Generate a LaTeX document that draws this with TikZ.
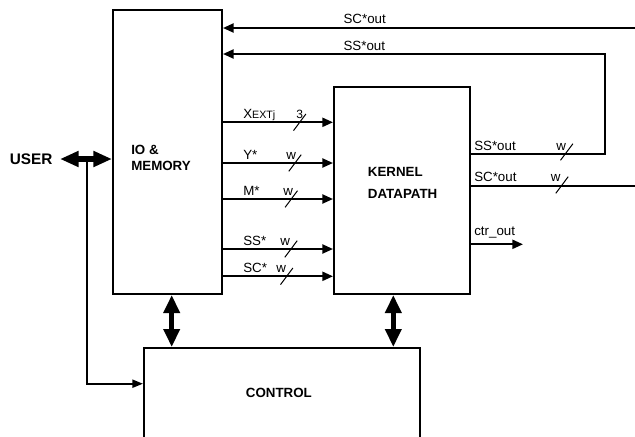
\documentclass[tikz,border=0pt]{standalone}
\usepackage{fontspec}
\setmainfont{Liberation Sans}
\usetikzlibrary{arrows.meta}
\begin{document}
\begin{tikzpicture}[x=0.75pt,y=-0.75pt,
  box/.style={draw, line width=1.5pt, inner sep=0pt},
  sig/.style={line width=1.5pt},
  sigarr/.style={sig, -{Triangle[length=8pt,width=6.8pt]}},
  bus/.style={line width=3.8pt, {Triangle[length=13.5pt,width=11.8pt]}-{Triangle[length=13.5pt,width=11.8pt]}},
  busH/.style={line width=3.8pt, {Triangle[length=14pt,width=11.3pt]}-{Triangle[length=14pt,width=11.3pt]}},
  lbl/.style={font=\fontsize{10}{12}\selectfont, inner sep=0pt, anchor=base west},
  blbl/.style={font=\fontsize{10}{12}\selectfont\bfseries, inner sep=0pt},
  slash/.style={line width=0.75pt}]
\useasboundingbox (0,0) rectangle (635,436);
\clip (0,0) rectangle (635,436);

% boxes
\node[box, minimum width=81.75pt, minimum height=213pt] (io) at (167.5,152) {};
\node[box, minimum width=102pt, minimum height=155.25pt] (kernel) at (402,190.5) {};
\node[box, minimum width=207pt, minimum height=76.5pt] (control) at (282,399) {};

% box texts
\node[blbl, anchor=base west] (io1) at (131,154.3) {IO \&};
\node[blbl, anchor=base west] (io2) at (131,170.7) {MEMORY};
\node[blbl, anchor=base west] (k1) at (367.7,176.7) {KERNEL};
\node[blbl, anchor=base west] (k2) at (367.7,198.3) {DATAPATH};
\node[blbl, anchor=base west] (ctl) at (245.7,397.3) {CONTROL};
\node[blbl, font=\fontsize{11.5}{13}\selectfont\bfseries, anchor=base east] (user) at (52.7,164) {USER};

% inputs to kernel
\foreach \nm/\yy/\txt/\wtxt/\wx/\sx in {
  xe/122.3/{X{\fontsize{8}{8}\selectfont EXTj}}/{\fontsize{9}{9}\selectfont 3}/296/299.7,
  ys/163/{Y*}/w/286/295,
  ms/199/{M*}/w/283/291.3,
  ss/249/{SS*}/w/280/291,
  sc/276.3/{SC*}/w/276/286.7}{
  \coordinate (c\nm) at (0,\yy);
  \draw[sigarr] (io.east |- c\nm) -- (kernel.west |- c\nm);
  \node[lbl] (l\nm) at (243,\yy-4) {\txt};
  \node[lbl] (w\nm) at (\wx,\yy-4) {\wtxt};
  \draw[slash] (\sx-6.2,\yy+8.3) -- (\sx+6.2,\yy-8.3);
}

% top feedback lines
\coordinate (ti) at (635,28);
\draw[sigarr] (ti) -- (io.east |- ti);
\node[lbl] (lsct) at (343.3,23.3) {SC*out};

\coordinate (k1c) at (605,154);
\coordinate (k2c) at (605,54);
\draw[sigarr] (kernel.east |- k1c) -- (k1c) -- (k2c) -- (io.east |- k2c);
\node[lbl] (lsst) at (343.3,50) {SS*out};

% kernel outputs
\node[lbl] (lsso) at (474,150.5) {SS*out};
\node[lbl] (wsso) at (556,150.5) {w};
\draw[slash] (566.7-6.2,152+8.3) -- (566.7+6.2,152-8.3);

\coordinate (so) at (635,186);
\draw[sig] (kernel.east |- so) -- (so);
\node[lbl] (lsco) at (474,181.5) {SC*out};
\node[lbl] (wsco) at (550.7,181.5) {w};
\draw[slash] (562-6.2,185+8.3) -- (562+6.2,185-8.3);

\coordinate (co) at (523,244.3);
\draw[sigarr] (kernel.east |- co) -- (co);
\node[lbl] (lctr) at (474,235) {ctr\_out};

% user bus
\coordinate (ua) at (60,159);
\draw[busH] (ua) -- (io.west |- ua);
\coordinate (uj) at (86.7,159);
\coordinate (uc) at (86.7,383.7);
\draw[sig, -{Triangle[length=8pt,width=6pt]}] (uj) -- (uc) -- (control.west |- uc);

% vertical buses
\coordinate (vb1) at (171.7,0);
\coordinate (vb2) at (393.3,0);
\draw[bus] (io.south -| vb1) -- (control.north -| vb1);
\draw[bus] (kernel.south -| vb2) -- (control.north -| vb2);
\end{tikzpicture}
\end{document}
